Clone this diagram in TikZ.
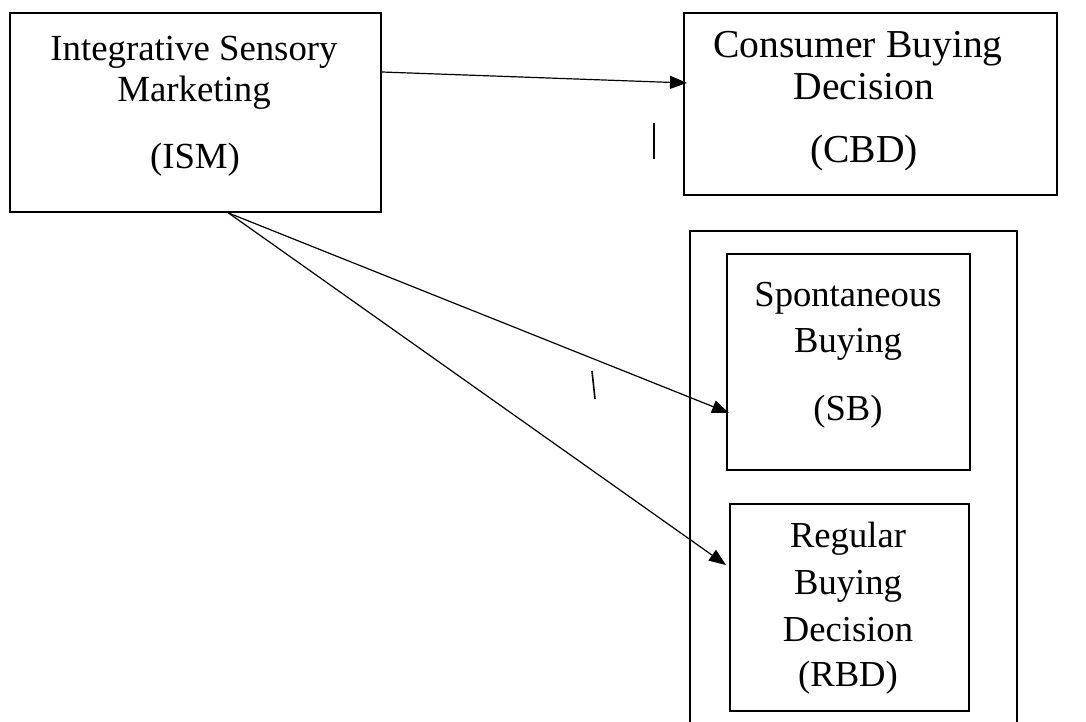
\documentclass[tikz,border=0pt]{standalone}
\usepackage{fontspec}
\setmainfont{Liberation Serif}
\usetikzlibrary{arrows.meta,calc}
\begin{document}
\begin{tikzpicture}[x=1pt,y=-1pt,
  box/.style={draw,line width=2pt,rectangle,inner sep=0pt,anchor=north west},
  lbl/.style={anchor=base,inner sep=0pt},
  mid/.style={font=\fontsize{36.8}{40}\selectfont},
  small/.style={font=\fontsize{36.6}{40}\selectfont},
  large/.style={font=\fontsize{39.6}{44}\selectfont},
  link/.style={line width=1.2pt,-{Triangle[length=17pt,width=13pt]}},
  stroke/.style={line width=1.6pt}]
\useasboundingbox (0,0) rectangle (1086,722);

% boxes
\node[box,minimum width=371pt,minimum height=199pt] (ism) at (9,12) {};
\node[box,minimum width=373pt,minimum height=182pt] (cbd) at (683,12) {};
\begin{scope}
  \clip (0,0) rectangle (1086,722);
  \node[box,minimum width=327pt,minimum height=540pt] (frame) at (689,230) {};
\end{scope}
\node[box,minimum width=243pt,minimum height=216pt] (sb) at (726,253) {};
\node[box,minimum width=239pt,minimum height=207pt] (rbd) at (729,503) {};

% labels
\node[lbl,mid] (ism1) at (194,61) {Integrative Sensory};
\node[lbl,mid] (ism2) at (194,102) {Marketing};
\node[lbl,mid] (ism3) at (195,168) {(ISM)};

\node[lbl,large] (cbd1) at (858,58) {Consumer Buying};
\node[lbl,large] (cbd2) at (864,100) {Decision};
\node[lbl,large] (cbd3) at (864,163) {(CBD)};

\node[lbl,small] (sb1) at (848,306) {Spontaneous};
\node[lbl,small] (sb2) at (848,352) {Buying};
\node[lbl,small] (sb3) at (848,420) {(SB)};

\node[lbl,small] (rbd1) at (848,547) {Regular};
\node[lbl,small] (rbd2) at (848,594) {Buying};
\node[lbl,small] (rbd3) at (848,641) {Decision};
\node[lbl,small] (rbd4) at (848,686) {(RBD)};

% connectors
\coordinate (src) at ($(ism.south)+(33,0)$);
\draw[link] ($(ism.north east)+(0,60)$) -- ($(cbd.north west)+(4,71)$);
\draw[link] (src) -- ($(sb.north west)+(3,160)$);
\draw[link] (src) -- ($(rbd.north west)+(-3,62)$);

% stray strokes
\draw[stroke] (654,123) -- (654,159);
\draw[stroke] (592,371) -- (595,399);
\end{tikzpicture}
\end{document}
